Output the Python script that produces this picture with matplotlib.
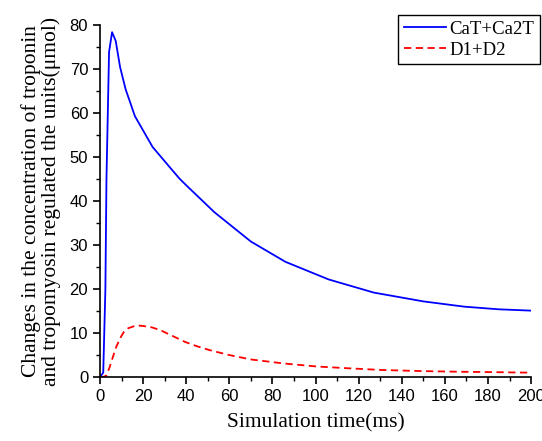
import matplotlib as mpl
mpl.use('Agg')
from matplotlib import pyplot as plt
from matplotlib.ticker import MultipleLocator

plt.rcParams['font.family'] = 'Liberation Sans'

# CaT+Ca2T curve (ms, umol)
t_cat = [0, 1.5, 2.5, 3.0, 4.2, 5.6, 7.3, 9.3, 11.9, 16.2, 24.4, 36.7, 40, 53,
         70, 86, 106, 127, 150, 169, 185, 200]
cat = [0, 1.0, 20.0, 45.0, 73.9, 78.4, 76.4, 70.5, 65.4, 59.3, 52.3, 45.2, 43.6,
       37.5, 30.8, 26.2, 22.2, 19.2, 17.2, 16.0, 15.4, 15.1]

# D1+D2 curve
t_d = [0, 2.0, 3.1, 4.5, 6.0, 7.5, 9.3, 11.0, 13.1, 16.0, 18.0, 20.1, 24.0, 27.8,
       33.0, 39.4, 45.0, 51, 60, 70, 85, 100.5, 115, 131, 150, 168, 185, 199]
d = [0, 0.1, 0.45, 2.3, 4.6, 6.8, 8.8, 10.2, 11.1, 11.6, 11.7, 11.6, 11.3, 10.7,
     9.5, 8.0, 7.0, 6.1, 5.0, 4.0, 3.1, 2.4, 2.0, 1.6, 1.35, 1.2, 1.1, 1.0]

fig = plt.figure(figsize=(5.42, 4.41), dpi=100)
ax = fig.add_axes([0.1845, 0.145, 0.7955, 0.798])

ax.plot(t_cat, cat, color='#0000ff', lw=1.3, label='CaT+Ca2T')
ax.plot(t_d, d, color='#ff0000', lw=1.3, ls=(0, (4, 2.5)), label='D1+D2')

ax.set_xlim(0, 200)
ax.set_ylim(0, 80)
ax.xaxis.set_major_locator(MultipleLocator(20))
ax.xaxis.set_minor_locator(MultipleLocator(10))
ax.yaxis.set_major_locator(MultipleLocator(10))
ax.yaxis.set_minor_locator(MultipleLocator(5))

for s in ['top', 'right']:
  ax.spines[s].set_visible(False)
for s in ['left', 'bottom']:
  ax.spines[s].set_linewidth(1.2)
ax.tick_params(which='major', direction='out', length=5, width=1.2,
               labelsize=12)
ax.tick_params(which='minor', direction='out', length=3, width=1.0)

ax.set_xlabel('Simulation time(ms)', family='Liberation Serif', fontsize=15.5,
              labelpad=7)
ax.set_ylabel('Changes in the concentration of troponin\n'
              'and tropomyosin regulated the units(\u03bcmol)',
              family='Liberation Serif', fontsize=15.5, labelpad=6,
              linespacing=1.05)

leg = ax.legend(loc='upper right', bbox_to_anchor=(540 / 542, 1 - 15 / 441),
                bbox_transform=fig.transFigure, borderaxespad=0,
                fancybox=False, edgecolor='black', framealpha=1,
                prop={'family': 'Liberation Serif', 'size': 13.5},
                handlelength=2.25, handletextpad=0.2, borderpad=0.3,
                labelspacing=0.2)
leg.get_frame().set_linewidth(1.0)

plt.savefig('out.png', dpi=100)
